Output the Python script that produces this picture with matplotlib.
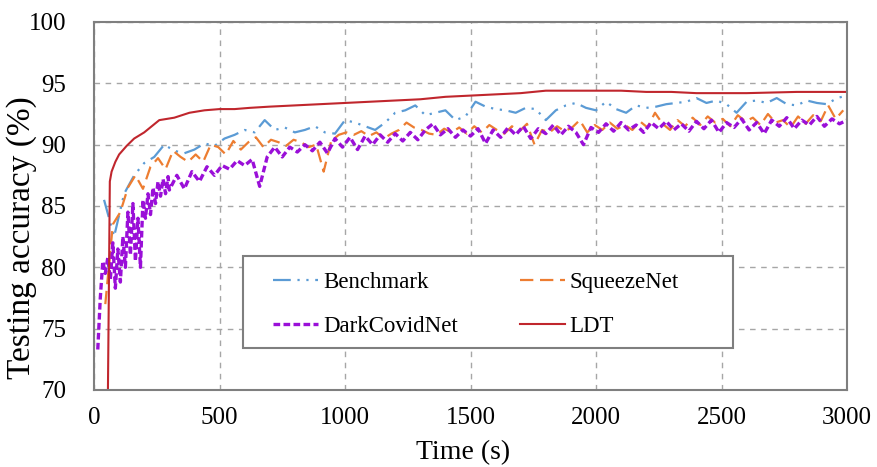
import matplotlib.pyplot as plt
import matplotlib.patches as mpatches
import numpy as np

plt.rcParams['font.family'] = ['Liberation Serif', 'DejaVu Serif']

# Benchmark, sampled every 40 s
t_bench = np.arange(40, 3001, 40)
benchmark = [85.5, 82.5, 86.0, 87.5, 88.5, 89.0, 90.0, 89.5, 89.3, 89.6,
             90.1, 89.9, 90.5, 90.8, 91.2, 91.0, 92.0, 91.2, 91.4, 91.0,
             91.2, 91.5, 91.0, 90.9, 92.0, 91.8, 91.5, 91.2, 91.8, 92.6,
             92.8, 93.2, 92.4, 92.6, 92.8, 92.0, 92.3, 93.5, 93.1, 92.9,
             92.8, 92.6, 93.0, 92.9, 92.0, 92.8, 93.2, 93.4, 93.0, 92.8,
             93.5, 92.9, 92.6, 93.2, 93.0, 93.1, 93.3, 93.4, 93.5, 93.8,
             93.4, 93.6, 93.3, 92.6, 93.5, 93.6, 93.4, 93.8, 93.3, 93.2,
             93.6, 93.4, 93.3, 93.8, 94.0]

# SqueezeNet, sampled every 30 s
t_squeeze = np.arange(45, 3000, 30)
squeezenet = [77.0, 83.5, 84.5, 86.5, 87.5, 86.4, 88.2, 88.9, 88.0, 89.5,
              89.0, 88.6, 89.2, 88.6, 90.0, 89.8, 89.2, 90.3, 89.6, 90.2,
              90.6, 89.8, 90.4, 90.2, 89.9, 90.4, 90.2, 89.8, 90.0, 87.8,
              90.3, 90.8, 91.0, 90.8, 91.1, 90.7, 91.0, 90.5, 90.9, 91.2,
              91.8, 91.4, 91.2, 90.9, 90.8, 91.3, 91.0, 91.4, 90.9, 91.5,
              91.0, 91.6, 91.2, 90.9, 91.5, 91.1, 91.7, 90.0, 91.2, 91.0,
              91.5, 91.1, 91.4, 92.0, 91.0, 91.6, 91.2, 91.8, 91.3, 91.6,
              91.2, 91.9, 91.4, 92.6, 91.7, 91.2, 92.0, 91.5, 92.2, 91.6,
              92.3, 91.8, 92.1, 91.5, 92.4, 91.9, 92.2, 91.6, 92.5, 91.8,
              92.0, 91.4, 92.3, 91.7, 92.4, 91.9, 93.2, 92.1, 92.8]

# DarkCovidNet, every 10 s at the start then every 30 s
t_dark = np.concatenate([np.arange(15, 300, 10), np.arange(300, 3001, 30)])
darkcovid = [73.3, 77.5, 80.5, 79.5, 80.8, 79.0, 82.0, 78.3, 81.5, 78.8,
             82.5, 80.0, 84.5, 81.0, 85.2, 80.5, 84.0, 80.0, 85.5, 84.0,
             86.0, 84.3, 86.5, 85.2, 87.0, 85.8, 87.2, 86.0, 87.4,
             86.3, 87.5, 86.4, 87.8, 87.0, 88.2, 87.5, 88.3, 88.0, 88.7,
             88.3, 88.8, 86.6, 89.0, 89.8, 89.0, 89.8, 89.4, 90.0, 89.5,
             90.2, 89.3, 90.5, 89.8, 90.6, 89.6, 90.7, 90.0, 90.8, 90.2,
             90.9, 90.3, 91.0, 90.4, 91.2, 91.7, 90.8, 91.3, 90.6, 91.2,
             90.7, 91.3, 90.1, 91.2, 90.6, 91.4, 90.8, 91.5, 90.5, 91.3,
             90.9, 91.6, 90.8, 91.5, 91.0, 90.0, 91.4, 91.0, 91.7, 91.1,
             91.8, 91.2, 91.6, 91.0, 91.8, 91.3, 91.9, 91.2, 91.7, 91.1,
             91.9, 91.3, 92.0, 91.0, 91.8, 91.4, 92.1, 91.2, 91.8, 90.9,
             92.0, 91.5, 92.2, 91.3, 92.0, 91.6, 92.3, 91.5, 92.1, 91.7,
             92.0]

# LDT
t_ldt = [55, 60, 63, 70, 85, 100, 130, 160, 200, 260, 320, 380, 440, 500, 560,
         620, 700, 800, 900, 1000, 1100, 1200, 1300, 1400, 1500, 1600, 1700,
         1800, 1900, 2000, 2100, 2200, 2300, 2400, 2600, 2800, 3000]
ldt = [69.0, 80.0, 87.0, 87.8, 88.6, 89.2, 89.9, 90.5, 91.0, 92.0, 92.2, 92.6,
       92.8, 92.9, 92.9, 93.0, 93.1, 93.2, 93.3, 93.4, 93.5, 93.6, 93.7, 93.9,
       94.0, 94.1, 94.2, 94.4, 94.4, 94.4, 94.4, 94.3, 94.3, 94.2, 94.2, 94.3,
       94.3]

fig = plt.figure(figsize=(8.77, 4.67), dpi=100)
ax = fig.add_axes([0.1072, 0.1649, 0.8586, 0.7880])

l_bench, = ax.plot(t_bench, benchmark, color='#5B9BD5', lw=1.6,
                   linestyle=(0, (8, 3, 1, 3, 1, 3)), label='Benchmark')
l_sq, = ax.plot(t_squeeze, squeezenet, color='#ED7D31', lw=1.6,
                linestyle=(0, (6, 3)), label='SqueezeNet')
l_dark, = ax.plot(t_dark, darkcovid, color='#9A0FD8', lw=2.4,
                  linestyle=(0, (2, 1)), label='DarkCovidNet')
l_ldt, = ax.plot(t_ldt, ldt, color='#C0262D', lw=1.5, label='LDT')

ax.set_xlim(0, 3000)
ax.set_ylim(70, 100)
ax.set_xticks(np.arange(0, 3001, 500))
ax.set_yticks(np.arange(70, 101, 5))
ax.tick_params(length=0, labelsize=18)
ax.tick_params(axis='y', pad=20)
ax.tick_params(axis='x', pad=12)

ax.grid(color='#A6A6A6', linestyle=(0, (4, 4)), lw=1.0)
for s in ax.spines.values():
    s.set_color('#7F7F7F')
    s.set_linewidth(1.5)

ax.set_xlabel('Time (s)', fontsize=20)
ax.set_ylabel('Testing accuracy (%)', fontsize=24)
ax.xaxis.set_label_coords(0.49, -0.135)
ax.yaxis.set_label_coords(-0.076, 0.413)

# legend frame drawn separately (wider padding on the left, like the original)
frame = mpatches.Rectangle((0.198, 0.114), 0.651, 0.250, transform=ax.transAxes,
                           facecolor='white', edgecolor='#7F7F7F', lw=1.5, zorder=4)
ax.add_patch(frame)

# legend fills column-wise, so order handles to get the two rows right
leg = ax.legend([l_bench, l_dark, l_sq, l_ldt],
                ['Benchmark', 'DarkCovidNet', 'SqueezeNet', 'LDT'],
                ncol=2, loc='upper left', bbox_to_anchor=(0.2377, 0.3206),
                fontsize=16.5, frameon=False, handlelength=1.96,
                handletextpad=0.22, columnspacing=2.7, labelspacing=1.0,
                borderpad=0, borderaxespad=0)
leg.set_zorder(5)

fig.savefig('out.png', dpi=100)
